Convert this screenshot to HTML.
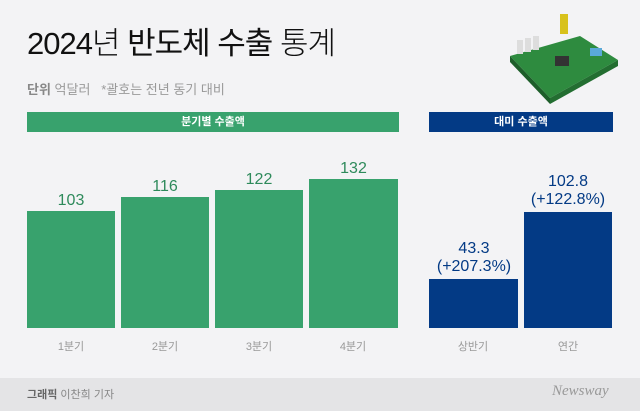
<html><head><style>
body{margin:0;width:640px;height:411px;background:#f3f3f5;position:relative;overflow:hidden;font-family:"Liberation Sans","Noto Sans CJK KR",sans-serif}
.a{position:absolute}
.g{background:#38a26d}.b{background:#033a85}
.v{position:absolute;text-align:center;font-size:16px;line-height:18px}
.l{position:absolute;top:338px;font-size:11px;color:#999;text-align:center;width:88px}
</style></head><body>
<div class="a" style="left:27px;top:18px;font-size:31px;color:#111;letter-spacing:-1px;font-weight:300">2024년 <b>반도체 수출</b> 통계</div>
<div class="a" style="left:27px;top:79px;font-size:13px;color:#999"><b style="color:#888">단위</b> 억달러 &nbsp; *괄호는 전년 동기 대비</div>
<svg class="a" style="left:500px;top:8px" width="125" height="100"><polygon points="10,48 80,28 118,52 50,90" fill="#2e8b3f"/><polygon points="10,48 50,90 50,96 10,54" fill="#1d5e2a"/><polygon points="50,90 118,52 118,58 50,96" fill="#236e31"/><rect x="55" y="48" width="14" height="10" fill="#333"/><rect x="60" y="6" width="8" height="20" fill="#d8c21c"/><rect x="17" y="32" width="6" height="14" fill="#ddd"/><rect x="25" y="30" width="6" height="14" fill="#ddd"/><rect x="33" y="28" width="6" height="14" fill="#ddd"/><rect x="90" y="40" width="12" height="8" fill="#5aa9d8"/></svg>
<div class="a g" style="left:27px;top:112px;width:372px;height:20px;color:#fff;font-size:11px;font-weight:bold;text-align:center;line-height:20px">분기별 수출액</div>
<div class="a b" style="left:429px;top:112px;width:184px;height:20px;color:#fff;font-size:11px;font-weight:bold;text-align:center;line-height:20px">대미 수출액</div>
<div class="a g" style="left:27px;top:211px;width:88px;height:117px"></div>
<div class="a g" style="left:121px;top:197px;width:88px;height:131px"></div>
<div class="a g" style="left:215px;top:190px;width:88px;height:138px"></div>
<div class="a g" style="left:309px;top:179px;width:89px;height:149px"></div>
<div class="a b" style="left:429px;top:279px;width:89px;height:49px"></div>
<div class="a b" style="left:524px;top:212px;width:88px;height:116px"></div>
<div class="v" style="left:27px;top:192px;width:88px;color:#2e8a5b">103</div>
<div class="v" style="left:121px;top:178px;width:88px;color:#2e8a5b">116</div>
<div class="v" style="left:215px;top:171px;width:88px;color:#2e8a5b">122</div>
<div class="v" style="left:309px;top:160px;width:89px;color:#2e8a5b">132</div>
<div class="v" style="left:414px;top:240px;width:120px;color:#033a85">43.3<br>(+207.3%)</div>
<div class="v" style="left:508px;top:173px;width:120px;color:#033a85">102.8<br>(+122.8%)</div>
<div class="l" style="left:27px">1분기</div><div class="l" style="left:121px">2분기</div><div class="l" style="left:215px">3분기</div><div class="l" style="left:309px">4분기</div><div class="l" style="left:429px">상반기</div><div class="l" style="left:524px">연간</div>
<div class="a" style="left:0;top:378px;width:640px;height:33px;background:#e4e4e6"></div>
<div class="a" style="left:27px;top:386px;font-size:11px;color:#888"><b style="color:#666">그래픽</b> 이찬희 기자</div>
<div class="a" style="left:552px;top:383px;font-size:15px;color:#999;font-style:italic;font-family:'Liberation Serif',serif">Newsway</div>
</body></html>
